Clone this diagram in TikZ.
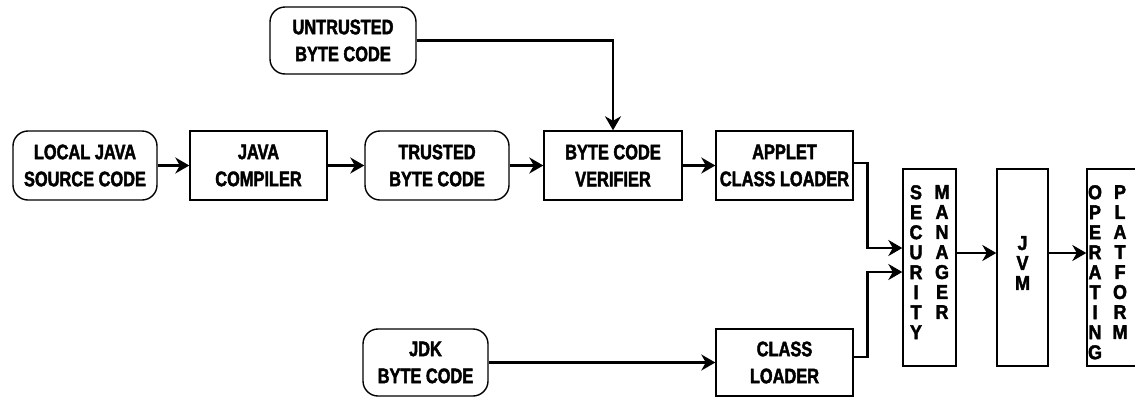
\documentclass[tikz,border=0pt]{standalone}
\usepackage{fontspec}
\setmainfont{Liberation Sans}
\newfontfamily\lab{Liberation Sans}[FakeStretch=0.78,FakeBold=2]
\newfontfamily\vlab{Liberation Sans}[FakeStretch=0.9,FakeBold=2]
\usetikzlibrary{arrows.meta}
\begin{document}
\begin{tikzpicture}[x=1pt,y=-1pt,
  box/.style={draw,line width=1.4pt,inner sep=0pt,align=center,
    font=\lab\bfseries\fontsize{21}{27}\selectfont},
  rbox/.style={box,rounded corners=15pt},
  tall/.style={draw,line width=1.4pt,inner sep=0pt,minimum width=53pt,minimum height=197pt},
  vtext/.style={inner sep=0pt,anchor=north,align=center,font=\vlab\bfseries\fontsize{20}{20}\selectfont},
  arr/.style={line width=2.7pt,-{Stealth[length=14pt,width=16pt,inset=4.5pt]}}]
\useasboundingbox (0,0) rectangle (1135,397);
\begin{scope}
\clip (0,0) rectangle (1135,397);
\node[rbox,minimum width=146pt,minimum height=67pt] (untr) at (343,40.5) {UNTRUSTED\\BYTE CODE};
\node[rbox,minimum width=144pt,minimum height=69pt] (local) at (85,165.5) {LOCAL JAVA\\SOURCE CODE};
\node[box,minimum width=137pt,minimum height=69pt] (comp) at (258.5,165.5) {JAVA\\COMPILER};
\node[rbox,minimum width=144pt,minimum height=69pt] (trust) at (437,165.5) {TRUSTED\\BYTE CODE};
\node[box,minimum width=138pt,minimum height=69pt] (verif) at (613,165.5) {BYTE CODE\\VERIFIER};
\node[box,minimum width=137pt,minimum height=69pt] (applet) at (784.5,165.5) {APPLET\\CLASS LOADER};
\node[rbox,minimum width=125pt,minimum height=67pt] (jdk) at (425.5,362.5) {JDK\\BYTE CODE};
\node[box,minimum width=137pt,minimum height=67pt] (cload) at (784.5,362.5) {CLASS\\LOADER};
\node[tall] (secm) at (929.5,267.5) {};
\node[tall,minimum width=51pt] (jvm) at (1022.5,267.5) {};
\node[tall] (oper) at (1113.5,267.5) {};
\node[vtext] (secA) at (916,185) {S\\E\\C\\U\\R\\I\\T\\Y};
\node[vtext] (secB) at (942,185) {M\\A\\N\\A\\G\\E\\R};
\node[vtext] (jvmT) at (1022.5,236) {J\\V\\M};
\node[vtext] (opA) at (1095,185) {O\\P\\E\\R\\A\\T\\I\\N\\G};
\node[vtext] (opB) at (1120,185) {P\\L\\A\\T\\F\\O\\R\\M};
\draw[arr] (local.east) -- (comp.west);
\draw[arr] (comp.east) -- (trust.west);
\draw[arr] (trust.east) -- (verif.west);
\draw[arr] (verif.east) -- (applet.west);
\draw[arr] (untr.east) -| (verif.north);
\draw[arr] ([yshift=2.5pt]applet.east) -- ++(14,0) |- ([yshift=19.5pt]secm.west);
\draw[arr] ([yshift=5.5pt]cload.east) -- ++(14,0) |- ([yshift=-4.5pt]secm.west);
\draw[arr] ([yshift=14.5pt]secm.east) -- ([yshift=14.5pt]jvm.west);
\draw[arr] ([yshift=14.5pt]jvm.east) -- ([yshift=14.5pt]oper.west);
\draw[arr] (jdk.east) -- (cload.west);
\end{scope}
\end{tikzpicture}
\end{document}
